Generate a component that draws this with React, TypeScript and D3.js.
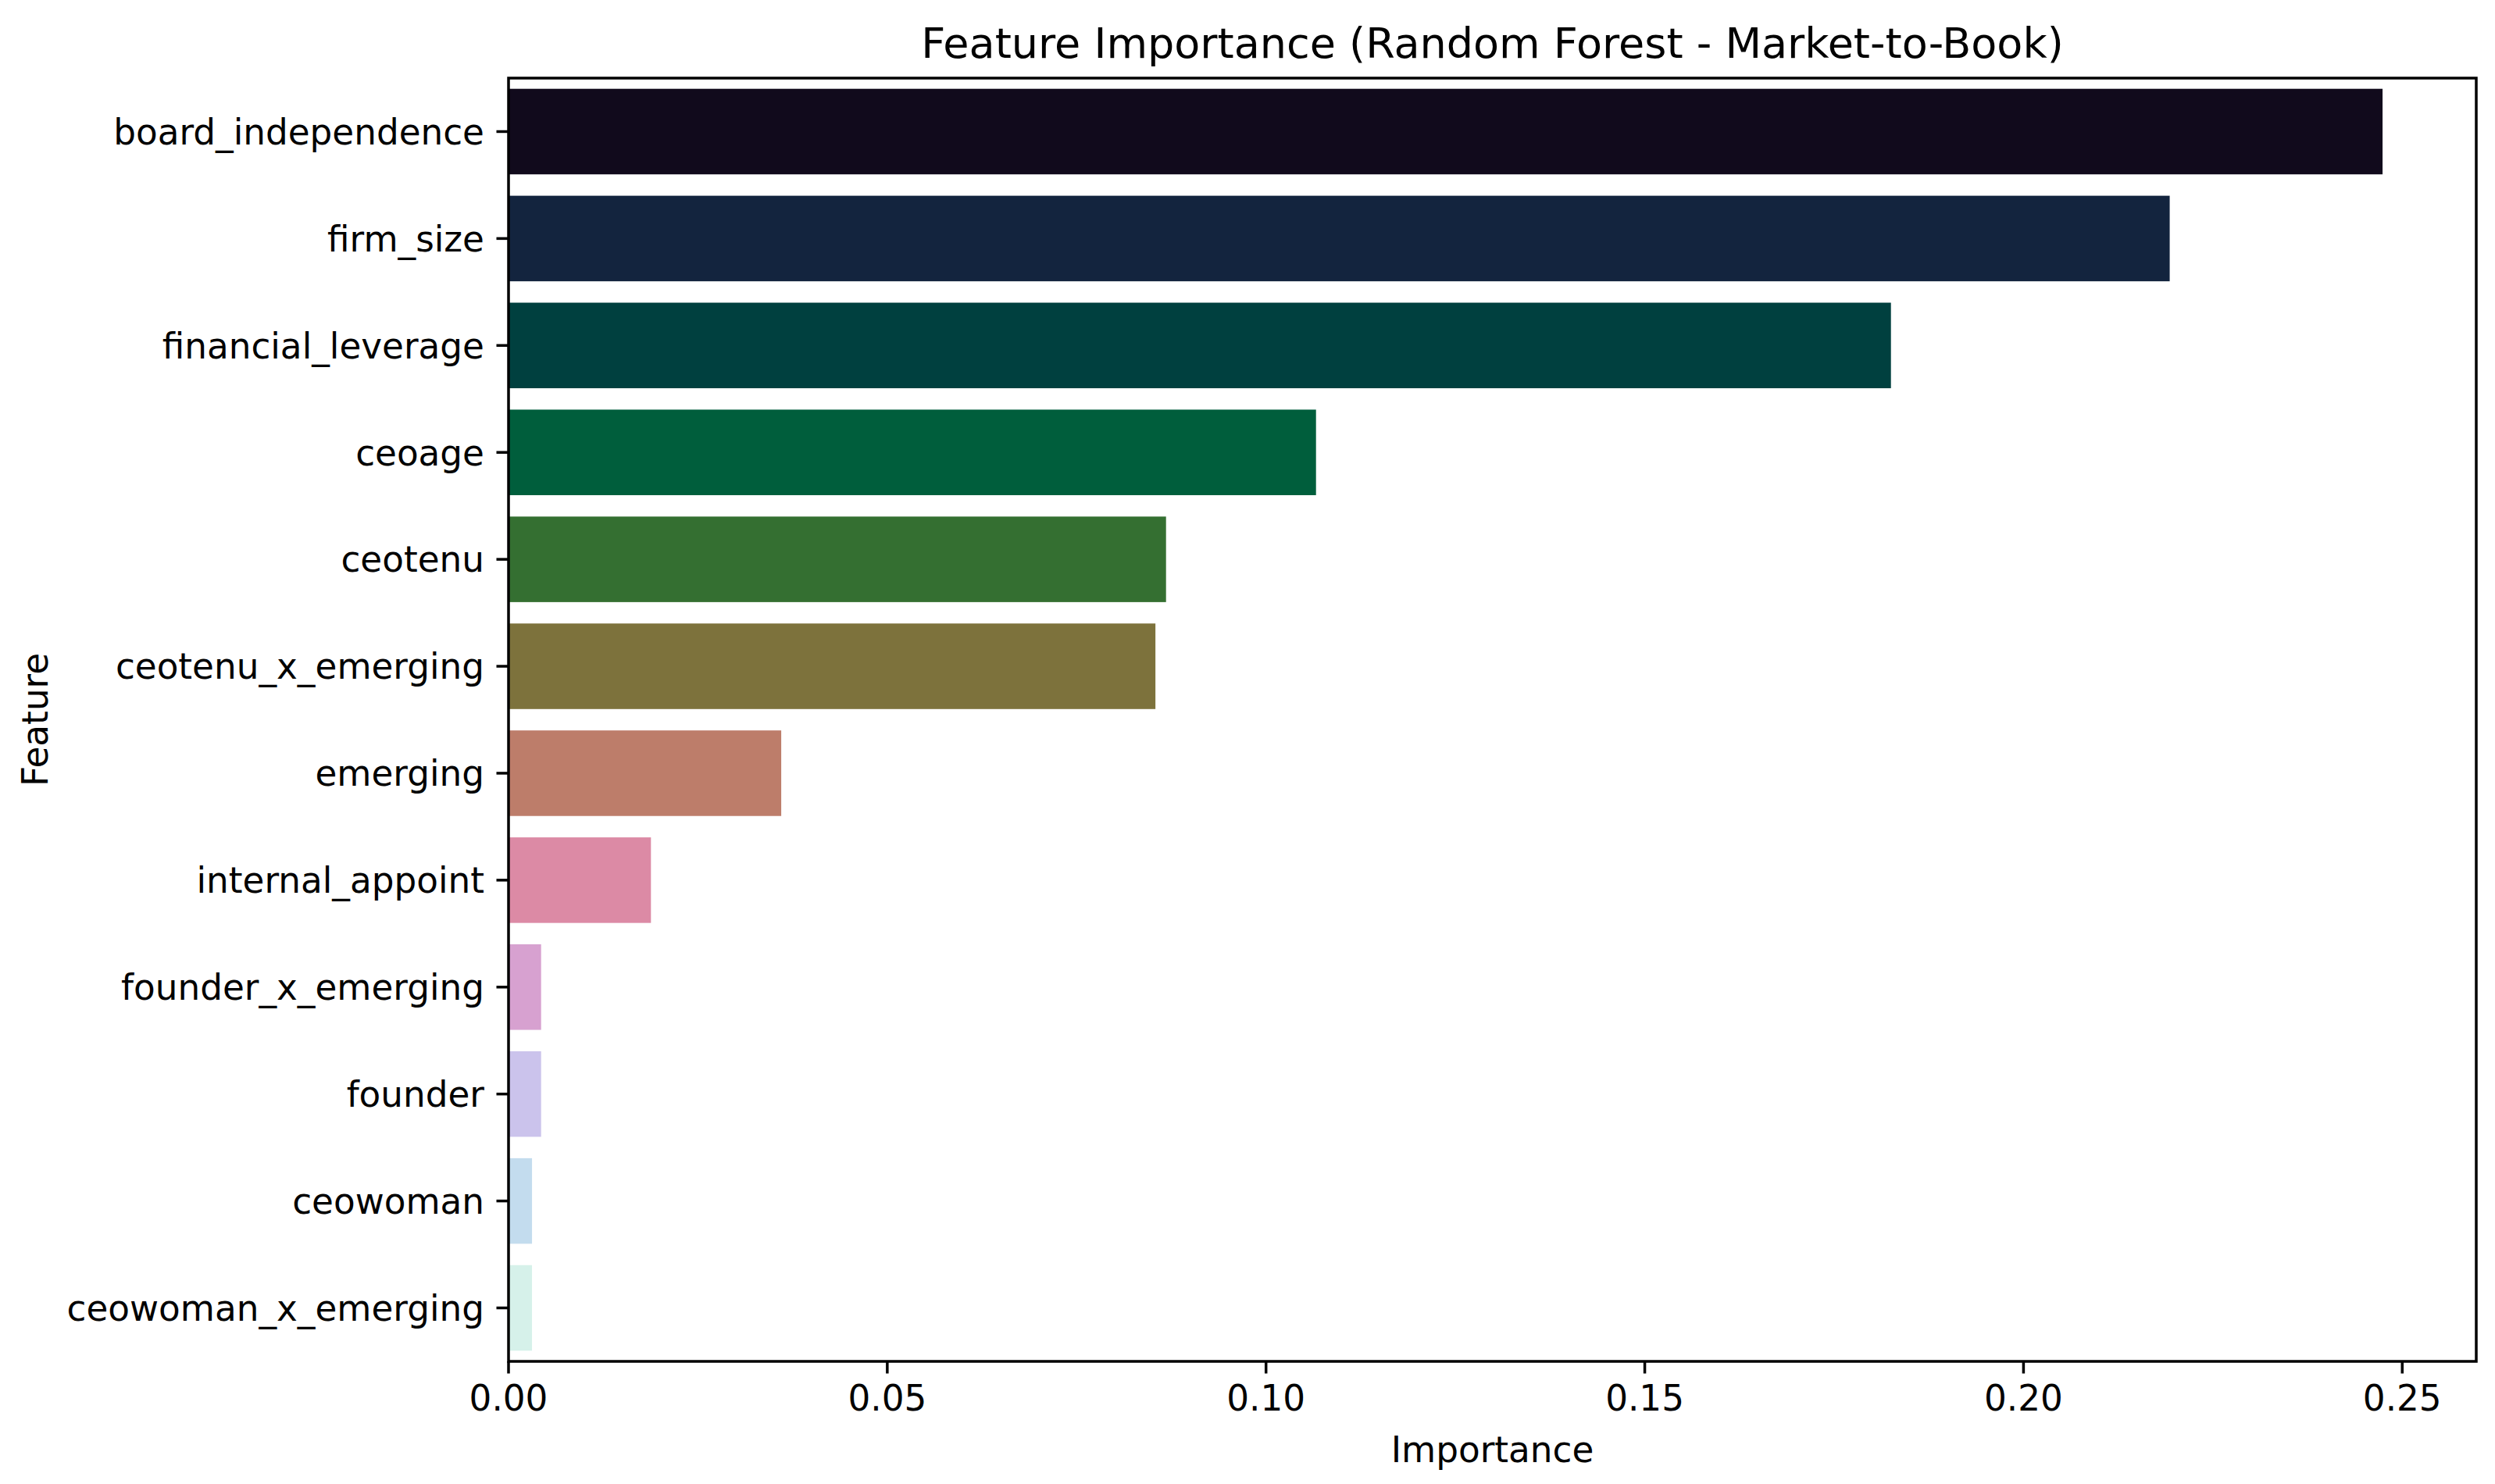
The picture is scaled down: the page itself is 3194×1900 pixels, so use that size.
import React from 'react';
import * as d3 from 'd3';

// Feature importance values
const features = [
  'board_independence',
  'firm_size',
  'financial_leverage',
  'ceoage',
  'ceotenu',
  'ceotenu_x_emerging',
  'emerging',
  'internal_appoint',
  'founder_x_emerging',
  'founder',
  'ceowoman',
  'ceowoman_x_emerging',
];
const importance = [0.2474, 0.2193, 0.1825, 0.1066, 0.0868, 0.0854, 0.036, 0.0188, 0.0043, 0.0043, 0.0031, 0.0031];
const barColors = [
  '#110a1c', '#13243e', '#00403f', '#005e3c', '#346f31', '#7d723c',
  '#bd7d6a', '#dc8aa5', '#d7a1d0', '#cbc3ec', '#c3dcee', '#d6f1ea',
];
const xTicks = [0, 0.05, 0.1, 0.15, 0.2, 0.25];

const W = 3194;
const H = 1900;
const FONT = '"DejaVu Sans", sans-serif';
const TICK_FS = 45.3;
const TITLE_FS = 54;
const LW = 3.5;
const TICK_LEN = 15.5;

export default function App() {
  const left = 651;
  const right = 3170;
  const top = 100;
  const bottom = 1743;

  const maxVal = d3.max(importance) ?? 0.25;
  const x = d3.scaleLinear().domain([0, maxVal * 1.05]).range([left, right]);
  const y = d3.scaleBand<string>().domain(features).range([top, bottom]).paddingInner(0.2).paddingOuter(0.1);

  return (
    <div>
      <style>{'body{margin:0;background:#fff}'}</style>
      <svg width={W} height={H} style={{ display: 'block', background: '#fff' }} fontFamily={FONT}>
        {/* bars */}
        {features.map((f, i) => (
          <rect
            key={f}
            x={x(0)}
            y={y(f)}
            width={x(importance[i]) - x(0)}
            height={y.bandwidth()}
            fill={barColors[i]}
          />
        ))}

        {/* y ticks and labels */}
        {features.map((f) => {
          const cy = (y(f) ?? 0) + y.bandwidth() / 2;
          return (
            <g key={f}>
              <line x1={left - TICK_LEN} x2={left} y1={cy} y2={cy} stroke="#000" strokeWidth={LW} />
              <text
                x={left - TICK_LEN - 15.5}
                y={cy}
                dy="0.36em"
                textAnchor="end"
                fontSize={TICK_FS}
                fill="#000"
              >
                {f}
              </text>
            </g>
          );
        })}

        {/* x ticks and labels */}
        {xTicks.map((t) => (
          <g key={t}>
            <line x1={x(t)} x2={x(t)} y1={bottom} y2={bottom + TICK_LEN} stroke="#000" strokeWidth={LW} />
            <text x={x(t)} y={1806} textAnchor="middle" fontSize={TICK_FS} fill="#000">
              {d3.format('.2f')(t)}
            </text>
          </g>
        ))}

        {/* frame */}
        <rect
          x={left}
          y={top}
          width={right - left}
          height={bottom - top}
          fill="none"
          stroke="#000"
          strokeWidth={LW}
        />

        {/* axis labels and title */}
        <text x={(left + right) / 2} y={1872} textAnchor="middle" fontSize={TICK_FS} fill="#000">
          Importance
        </text>
        <text
          transform={`translate(61, ${(top + bottom) / 2}) rotate(-90)`}
          textAnchor="middle"
          fontSize={TICK_FS}
          fill="#000"
        >
          Feature
        </text>
        <text x={(left + right) / 2} y={74} textAnchor="middle" fontSize={TITLE_FS} fill="#000">
          Feature Importance (Random Forest - Market-to-Book)
        </text>
      </svg>
    </div>
  );
}
